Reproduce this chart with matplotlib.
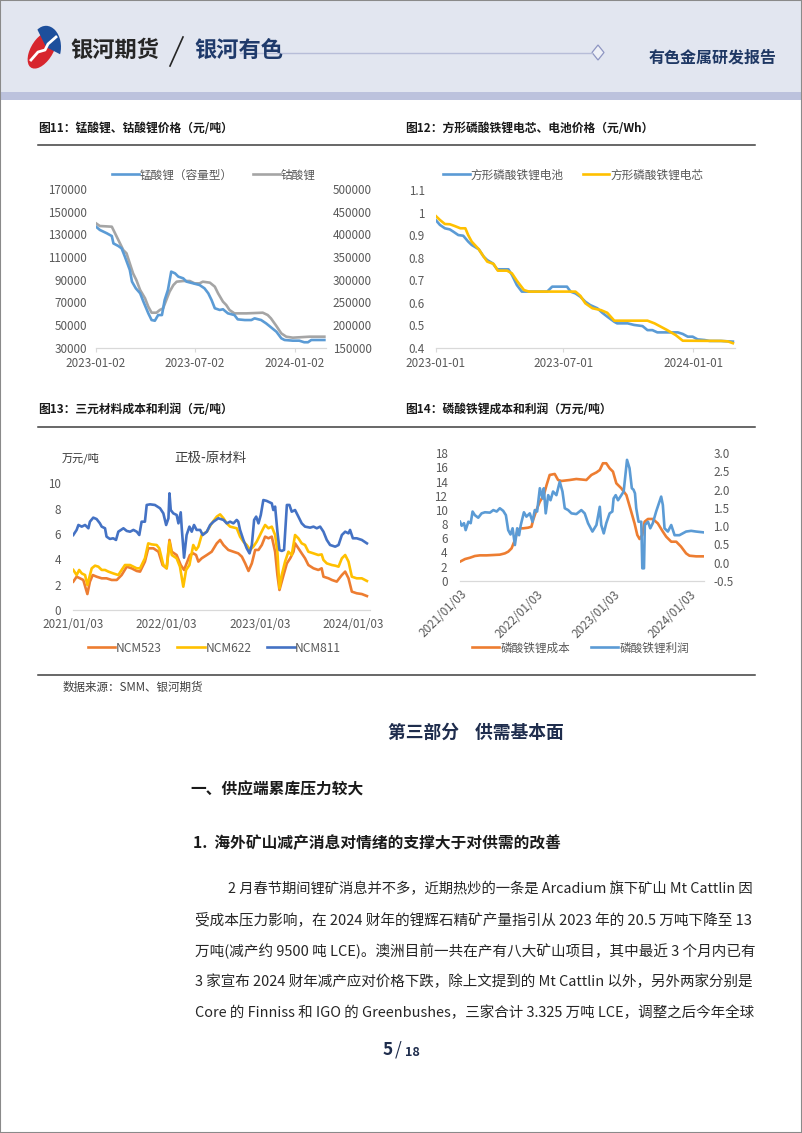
import numpy as np
import pandas as pd
import matplotlib
matplotlib.use('Agg')
import matplotlib.pyplot as plt
import matplotlib.dates as mdates
from matplotlib.patches import Rectangle, Polygon, Ellipse, Wedge
from matplotlib.lines import Line2D
from matplotlib.ticker import FuncFormatter

plt.rcParams['font.family'] = ['Noto Sans CJK SC', 'DejaVu Sans']
plt.rcParams['axes.unicode_minus'] = False

# ---------------- data ----------------
# Fig 11: lithium manganate / lithium cobaltate (day offsets from 2023-01-02)
mn_days = [0, 7, 20, 29, 32, 41, 47, 53, 62, 66, 73, 81, 87, 96, 102, 108, 114, 121, 126, 132,
           138, 145, 151, 160, 166, 178, 190, 199, 206, 212, 218, 227, 233, 242, 254, 260, 273,
           285, 291, 303, 312, 318, 331, 340, 346, 361, 373, 382, 389, 395, 419]
mn_price = [136800, 133900, 130900, 128500, 122000, 119700, 117600, 110300, 98600, 88300, 82400,
            78000, 70600, 60300, 54400, 53800, 58800, 58800, 72100, 81000, 97100, 95600, 92700,
            91200, 88300, 86800, 85300, 82400, 78000, 72100, 64800, 63300, 63900, 60300, 58800,
            55000, 54400, 54400, 55900, 54400, 51500, 49200, 44100, 38300, 36800, 36200, 36200,
            34800, 34800, 36800, 36800]
co_days = [0, 7, 29, 35, 41, 50, 56, 62, 68, 74, 81, 90, 96, 102, 111, 117, 123, 129, 135, 142,
           148, 160, 172, 181, 190, 196, 209, 218, 224, 233, 239, 245, 254, 276, 306, 315, 321,
           331, 340, 349, 361, 392, 419]
co_price = [424300, 418400, 416900, 402200, 387500, 365400, 358100, 336000, 314000, 299300,
            277200, 258800, 240400, 227200, 227200, 233100, 236800, 255100, 273500, 288200,
            295600, 297100, 297100, 291900, 291900, 295600, 293400, 284600, 269900, 251500,
            244100, 233100, 225700, 225700, 227200, 222100, 214700, 197800, 181600, 174300,
            172100, 174300, 174300]
fig11_ticks = ['2023-01-02', '2023-07-02', '2024-01-02']

# Fig 12: LFP prismatic battery / cell price (day offsets from 2023-01-01)
bat_days = [0, 6, 13, 20, 25, 32, 39, 46, 51, 61, 68, 73, 81, 87, 103, 108, 115, 122, 158, 165,
            186, 191, 198, 205, 212, 219, 229, 236, 243, 253, 257, 272, 281, 293, 300, 307, 314,
            343, 350, 357, 364, 371, 381, 388, 404, 421]
bat_price = [0.967, 0.945, 0.930, 0.925, 0.915, 0.900, 0.897, 0.871, 0.856, 0.837, 0.804, 0.789,
             0.774, 0.748, 0.748, 0.723, 0.678, 0.649, 0.649, 0.671, 0.671, 0.649, 0.641, 0.626,
             0.604, 0.589, 0.575, 0.555, 0.538, 0.515, 0.508, 0.508, 0.501, 0.496, 0.478, 0.478,
             0.468, 0.468, 0.461, 0.449, 0.449, 0.437, 0.434, 0.430, 0.430, 0.427]
cell_days = [0, 6, 13, 20, 27, 35, 42, 46, 51, 61, 68, 73, 82, 88, 101, 108, 115, 125, 132, 198,
             205, 212, 222, 234, 243, 253, 300, 310, 319, 328, 340, 350, 404, 414, 421]
cell_price = [0.985, 0.967, 0.949, 0.948, 0.940, 0.930, 0.930, 0.900, 0.871, 0.837, 0.804, 0.782,
              0.772, 0.742, 0.742, 0.730, 0.697, 0.656, 0.649, 0.649, 0.630, 0.597, 0.575, 0.567,
              0.555, 0.520, 0.520, 0.508, 0.493, 0.478, 0.456, 0.431, 0.430, 0.428, 0.420]
fig12_ticks = ['2023-01-01', '2023-07-01', '2024-01-01']

# Fig 13: ternary cathode minus raw material (day offsets from 2021-01-03)
n811_days = [0, 13, 20, 33, 46, 59, 65, 78, 91, 104, 111, 124, 130, 143, 156, 167, 176, 196, 209,
             222, 235, 248, 258, 267, 280, 287, 300, 319, 339, 352, 363, 372, 376, 381, 391, 404,
             411, 420, 424, 433, 443, 454, 463, 472, 482, 496, 506, 522, 535, 548, 567, 587, 600,
             613, 626, 639, 645, 652, 665, 678, 689, 698, 707, 715, 724, 733, 743, 756, 776, 782,
             789, 798, 806, 815, 824, 835, 845, 854, 867, 880, 893, 906, 926, 939, 952, 965, 978,
             991, 1004, 1024, 1037, 1050, 1063, 1076, 1082, 1093, 1108, 1128, 1148]
n811 = [5.92, 6.32, 6.71, 6.58, 6.71, 6.45, 6.97, 7.29, 7.18, 6.84, 6.58, 6.45, 5.79, 5.61, 5.66,
        5.53, 6.18, 6.45, 6.24, 6.18, 6.32, 6.18, 5.92, 6.97, 6.97, 8.29, 8.34, 8.29, 8.03, 7.63,
        6.71, 7.24, 9.21, 7.89, 7.63, 7.50, 6.84, 7.71, 6.45, 4.13, 5.92, 6.58, 6.18, 6.71, 6.32,
        6.32, 5.92, 6.18, 6.71, 6.97, 7.24, 7.11, 6.84, 6.97, 6.84, 7.11, 6.97, 6.32, 5.53, 4.87,
        4.47, 5.13, 7.11, 7.37, 6.84, 7.50, 8.68, 8.61, 8.42, 7.89, 8.16, 6.18, 4.74, 4.66, 4.74,
        8.29, 8.29, 7.76, 7.89, 7.37, 6.84, 6.58, 6.50, 6.58, 6.45, 6.58, 6.18, 5.53, 5.13, 5.00,
        5.13, 5.92, 6.18, 6.05, 6.32, 5.66, 5.66, 5.53, 5.26]
n622_days = [0, 13, 23, 33, 46, 55, 72, 85, 98, 111, 124, 137, 156, 176, 189, 202, 222, 235, 248,
             261, 280, 293, 306, 326, 336, 352, 365, 376, 385, 404, 417, 430, 441, 454, 469, 480,
             489, 502, 522, 541, 561, 574, 587, 600, 613, 639, 652, 665, 678, 691, 704, 717, 730,
             743, 750, 763, 776, 789, 798, 806, 815, 828, 841, 854, 867, 880, 893, 906, 919, 939,
             958, 971, 978, 991, 1011, 1024, 1037, 1050, 1063, 1076, 1089, 1108, 1128, 1148]
n622 = [3.16, 2.76, 3.16, 2.89, 2.76, 1.97, 3.29, 3.50, 3.42, 3.16, 3.16, 3.03, 2.89, 2.76, 3.16,
        3.55, 3.55, 3.42, 3.29, 3.29, 4.08, 5.26, 5.18, 5.13, 4.87, 3.55, 3.29, 5.39, 4.34, 4.08,
        3.42, 1.84, 3.16, 3.55, 5.13, 4.74, 5.00, 5.92, 6.18, 6.84, 7.37, 7.55, 7.24, 6.84, 6.58,
        6.45, 5.79, 5.39, 5.13, 4.74, 5.00, 5.39, 5.92, 6.45, 6.71, 6.45, 6.58, 5.92, 4.60, 1.71,
        2.76, 3.82, 4.60, 4.34, 5.92, 5.66, 5.26, 5.13, 4.60, 4.47, 4.34, 4.39, 3.95, 3.68, 3.55,
        3.50, 3.42, 4.08, 4.34, 3.82, 2.63, 2.50, 2.50, 2.29]
n523_days = [0, 13, 26, 39, 55, 65, 76, 91, 111, 130, 150, 170, 189, 209, 228, 248, 261, 280, 293,
             313, 333, 349, 365, 376, 385, 404, 420, 433, 443, 456, 469, 480, 489, 502, 522, 541,
             561, 574, 587, 606, 626, 645, 659, 672, 685, 698, 711, 724, 737, 750, 763, 776, 789,
             798, 806, 822, 835, 848, 861, 867, 880, 893, 906, 919, 939, 958, 971, 978, 998, 1011,
             1030, 1050, 1063, 1076, 1089, 1108, 1128, 1148]
n523 = [2.24, 2.63, 2.50, 2.37, 1.26, 2.24, 2.76, 2.63, 2.50, 2.50, 2.37, 2.37, 2.76, 3.42, 3.29,
        3.08, 3.03, 3.82, 4.87, 4.87, 4.60, 3.55, 3.29, 5.53, 4.60, 4.34, 3.55, 3.16, 3.68, 4.34,
        4.47, 4.34, 3.82, 4.08, 4.34, 4.60, 5.26, 5.53, 5.13, 4.74, 4.60, 4.47, 4.21, 3.68, 3.08,
        3.68, 4.74, 4.74, 5.13, 5.79, 5.66, 5.79, 4.60, 2.76, 1.58, 2.76, 3.68, 4.08, 4.60, 5.26,
        4.87, 4.47, 4.08, 3.55, 3.29, 3.16, 3.29, 2.63, 2.50, 2.37, 2.24, 2.76, 3.03, 2.50, 1.45,
        1.32, 1.26, 1.10]
fig13_ticks = ['2021-01-03', '2022-01-03', '2023-01-03', '2024-01-03']

# Fig 14: LFP cost (left, 万元/吨) and profit (right) (day offsets from 2021-01-03)
lfp_cost_days = [0, 24, 48, 71, 95, 127, 159, 190, 214, 230, 246, 262, 273, 286, 302, 325, 341,
                 349, 365, 381, 400, 413, 428, 452, 468, 484, 524, 555, 603, 627, 651, 667, 682,
                 698, 714, 730, 746, 770, 794, 817, 833, 846, 857, 870, 881, 897, 920, 944, 968,
                 984, 1008, 1032, 1055, 1079, 1095, 1127, 1159]
lfp_cost = [2.69, 3.06, 3.25, 3.49, 3.58, 3.58, 3.63, 3.68, 3.86, 4.10, 4.57, 5.75, 6.93, 7.40,
            7.40, 7.49, 7.63, 8.58, 9.99, 11.17, 12.10, 13.50, 14.94, 15.08, 14.23, 14.09, 14.23,
            14.37, 14.23, 14.94, 15.30, 15.64, 16.59, 16.59, 15.88, 15.41, 13.76, 13.05, 12.10,
            9.75, 8.10, 6.46, 5.89, 6.46, 8.34, 8.72, 8.72, 8.10, 6.93, 6.22, 5.51, 5.51, 4.81,
            3.86, 3.53, 3.44, 3.44]
lfp_profit_days = [0, 8, 19, 27, 40, 51, 60, 71, 87, 103, 119, 143, 159, 175, 190, 206, 219, 230,
                   241, 251, 262, 273, 282, 290, 305, 317, 333, 346, 357, 368, 381, 394, 400, 409,
                   421, 432, 444, 460, 476, 489, 500, 516, 532, 555, 579, 595, 611, 632, 651, 667,
                   674, 686, 698, 714, 727, 733, 743, 754, 770, 781, 797, 809, 820, 828, 835, 841,
                   852, 865, 870, 878, 882, 897, 908, 920, 936, 960, 968, 976, 992, 1008, 1024,
                   1047, 1063, 1079, 1103, 1127, 1159]
lfp_profit = [1.12, 1.01, 1.08, 0.89, 1.12, 1.08, 1.40, 1.30, 1.23, 1.35, 1.38, 1.37, 1.44, 1.40,
              1.49, 1.42, 1.30, 0.89, 0.77, 0.94, 0.48, 0.94, 0.75, 1.03, 1.38, 1.26, 1.35, 1.12,
              1.44, 1.40, 2.04, 1.76, 2.04, 1.35, 1.85, 1.71, 1.95, 1.85, 2.22, 1.95, 1.49, 1.44,
              1.35, 1.33, 1.44, 1.35, 1.08, 0.85, 1.03, 1.53, 1.03, 0.80, 1.08, 1.35, 1.40, 1.76,
              1.85, 1.71, 1.85, 1.95, 2.82, 2.59, 2.04, 2.00, 1.90, 1.49, 1.12, 1.12, -0.16, -0.16,
              1.03, 1.12, 0.94, 1.08, 1.40, 1.81, 1.58, 0.94, 0.85, 1.03, 0.75, 0.75, 0.80, 0.85,
              0.87, 0.85, 0.83]
fig14_ticks = ['2021-01-03', '2022-01-03', '2023-01-03', '2024-01-03']

body_lines = [
    '2 月春节期间锂矿消息并不多，近期热炒的一条是 Arcadium 旗下矿山 Mt Cattlin 因',
    '受成本压力影响，在 2024 财年的锂辉石精矿产量指引从 2023 年的 20.5 万吨下降至 13',
    '万吨(减产约 9500 吨 LCE)。澳洲目前一共在产有八大矿山项目，其中最近 3 个月内已有',
    '3 家宣布 2024 财年减产应对价格下跌，除上文提到的 Mt Cattlin 以外，另外两家分别是',
    'Core 的 Finniss 和 IGO 的 Greenbushes，三家合计 3.325 万吨 LCE，调整之后今年全球',
]

# ---------------- helpers ----------------
W, H = 802, 1133
fig = plt.figure(figsize=(W / 100, H / 100), dpi=100)
fig.patch.set_facecolor('white')


def fx(x):
    return x / W


def fy(y):
    return 1 - y / H


def add_ax(l, t, r, b):
    return fig.add_axes([fx(l), fy(b), (r - l) / W, (b - t) / H])


def to_dates(start, days):
    return pd.Timestamp(start) + pd.to_timedelta(np.asarray(days), unit='D')


TICKC = '#595959'
AXC = '#d9d9d9'
TFS = 8.4


def style_ax(ax):
    for s in ['top', 'left', 'right']:
        ax.spines[s].set_visible(False)
    ax.spines['bottom'].set_color(AXC)
    ax.spines['bottom'].set_linewidth(0.9)
    ax.patch.set_alpha(0)
    ax.tick_params(axis='y', length=0, labelsize=TFS, labelcolor=TICKC)
    ax.tick_params(axis='x', length=3, color=AXC, labelsize=TFS, labelcolor=TICKC)


def hline(x0, x1, y, color='#3f3f3f', lw=1.1):
    fig.add_artist(Line2D([fx(x0), fx(x1)], [fy(y), fy(y)], color=color, lw=lw,
                          transform=fig.transFigure))


# ---------------- header ----------------
fig.add_artist(Rectangle((0, fy(92)), 1, 92 / H, transform=fig.transFigure,
                         facecolor='#e2e6f0', edgecolor='none'))
fig.add_artist(Rectangle((0, fy(100)), 1, 8 / H, transform=fig.transFigure,
                         facecolor='#bcc2dd', edgecolor='none'))
# logo
fig.add_artist(Ellipse((fx(42), fy(50)), 34 / W, 27 / H, angle=40, transform=fig.transFigure,
                       facecolor='#d7262e', edgecolor='none'))
fig.add_artist(Wedge((fx(46), fy(47)), 15 / W, -20, 125, transform=fig.transFigure,
                     facecolor='#1d4f9c', edgecolor='none'))
fig.add_artist(Line2D([fx(31), fx(38), fx(45), fx(48), fx(56)],
                      [fy(60), fy(52), fy(50), fy(44), fy(37)], color='white', lw=2.0,
                      transform=fig.transFigure))
fig.text(fx(70), fy(50), '银河期货', fontsize=16, fontweight='bold', color='#262626',
         va='center', ha='left')
fig.add_artist(Line2D([fx(170), fx(183)], [fy(66), fy(37)], color='#262626', lw=1.2,
                      transform=fig.transFigure))
fig.text(fx(194), fy(50), '银河有色', fontsize=16, fontweight='bold', color='#1f3a6b',
         va='center', ha='left')
fig.add_artist(Line2D([fx(240), fx(420), fx(592)], [fy(52.5)] * 3, color='#b7bdd8', lw=1.0,
                      transform=fig.transFigure))
fig.add_artist(Polygon([(fx(598), fy(45)), (fx(604), fy(52.5)), (fx(598), fy(60)),
                        (fx(592), fy(52.5))], closed=True, transform=fig.transFigure,
                       facecolor='#eef0f7', edgecolor='#8e96c2', lw=0.9))
fig.text(fx(777), fy(58), '有色金属研发报告', fontsize=11.5, fontweight='bold', color='#1f3864',
         va='center', ha='right')

# ---------------- chart titles / rules ----------------
TITLEC = '#1a1a1a'
fig.text(fx(38), fy(128), '图11：锰酸锂、钴酸锂价格（元/吨）', fontsize=8.5, fontweight='bold',
         color=TITLEC, va='center')
fig.text(fx(405), fy(128), '图12：方形磷酸铁锂电芯、电池价格（元/Wh）', fontsize=8.5,
         fontweight='bold', color=TITLEC, va='center')
hline(38, 755, 145)
fig.text(fx(38), fy(410), '图13：三元材料成本和利润（元/吨）', fontsize=8.5, fontweight='bold',
         color=TITLEC, va='center')
fig.text(fx(405), fy(410), '图14：磷酸铁锂成本和利润（万元/吨）', fontsize=8.5, fontweight='bold',
         color=TITLEC, va='center')
hline(38, 755, 427)
hline(38, 755, 675)
fig.text(fx(63), fy(687), '数据来源：SMM、银河期货', fontsize=8.3, color='#404040', va='center')

# ---------------- Fig 11 ----------------
ax1 = add_ax(96, 189, 326, 347.7)
style_ax(ax1)
l1, = ax1.plot(to_dates('2023-01-02', mn_days), mn_price, color='#5b9bd5', lw=1.9)
ax1.set_ylim(30000, 170000)
ax1.set_yticks(np.arange(30000, 170001, 20000))
ax1.tick_params(axis='y', pad=6.5)
ax1r = ax1.twinx()
style_ax(ax1r)
ax1r.spines['bottom'].set_visible(False)
l2, = ax1r.plot(to_dates('2023-01-02', co_days), co_price, color='#a5a5a5', lw=1.9)
ax1r.set_ylim(150000, 500000)
ax1r.set_yticks(np.arange(150000, 500001, 50000))
ax1r.tick_params(axis='y', pad=5)
ax1.set_zorder(ax1r.get_zorder() + 1)
ax1.set_xlim(pd.Timestamp('2023-01-02'), pd.Timestamp('2023-01-02') + pd.Timedelta(days=422))
ax1.set_xticks(pd.to_datetime(fig11_ticks))
ax1.xaxis.set_major_formatter(mdates.DateFormatter('%Y-%m-%d'))
ax1.tick_params(axis='x', pad=4)
ax1.legend([l1, l2], ['锰酸锂（容量型）', '钴酸锂'], loc='center left',
           bbox_to_anchor=(fx(106), fy(175)), bbox_transform=fig.transFigure, ncol=2,
           frameon=False, fontsize=8.4, handlelength=2.3, handletextpad=0.1,
           columnspacing=1.7, borderpad=0, labelcolor=TICKC)

# ---------------- Fig 12 ----------------
ax2 = add_ax(435.7, 190, 735, 347.7)
style_ax(ax2)
b1, = ax2.plot(to_dates('2023-01-01', bat_days), bat_price, color='#5b9bd5', lw=1.9)
b2, = ax2.plot(to_dates('2023-01-01', cell_days), cell_price, color='#ffc000', lw=1.9)
ax2.set_ylim(0.4, 1.1)
ax2.set_yticks(np.arange(0.4, 1.1001, 0.1))
ax2.yaxis.set_major_formatter(FuncFormatter(lambda v, p: f'{round(v, 1):g}'))
ax2.tick_params(axis='y', pad=8)
ax2.set_xlim(pd.Timestamp('2023-01-01'), pd.Timestamp('2023-01-01') + pd.Timedelta(days=424))
ax2.set_xticks(pd.to_datetime(fig12_ticks))
ax2.xaxis.set_major_formatter(mdates.DateFormatter('%Y-%m-%d'))
ax2.tick_params(axis='x', pad=4)
ax2.legend([b1, b2], ['方形磷酸铁锂电池', '方形磷酸铁锂电芯'], loc='center left',
           bbox_to_anchor=(fx(437), fy(175)), bbox_transform=fig.transFigure, ncol=2,
           frameon=False, fontsize=8.4, handlelength=2.3, handletextpad=0.1,
           columnspacing=1.6, borderpad=0, labelcolor=TICKC)

# ---------------- Fig 13 ----------------
ax3 = add_ax(73.3, 483.3, 370, 610)
style_ax(ax3)
ax3.tick_params(axis='x', length=0)
c1, = ax3.plot(to_dates('2021-01-03', n523_days), n523, color='#ed7d31', lw=1.9)
c2, = ax3.plot(to_dates('2021-01-03', n622_days), n622, color='#ffc000', lw=1.9)
c3, = ax3.plot(to_dates('2021-01-03', n811_days), n811, color='#4472c4', lw=1.9)
ax3.set_ylim(0, 10)
ax3.set_yticks(np.arange(0, 10.1, 2))
ax3.tick_params(axis='y', pad=9)
ax3.set_xlim(pd.Timestamp('2021-01-03'), pd.Timestamp('2021-01-03') + pd.Timedelta(days=1160))
ax3.set_xticks(pd.to_datetime(fig13_ticks))
ax3.xaxis.set_major_formatter(mdates.DateFormatter('%Y/%m/%d'))
ax3.tick_params(axis='x', pad=6)
fig.text(fx(62), fy(458), '万元/吨', fontsize=8, color='#333333', va='center')
fig.text(fx(210), fy(458), '正极-原材料', fontsize=9.7, color='#404040', va='center', ha='center')
ax3.legend([c1, c2, c3], ['NCM523', 'NCM622', 'NCM811'], loc='center left',
           bbox_to_anchor=(fx(82), fy(648)), bbox_transform=fig.transFigure, ncol=3,
           frameon=False, fontsize=8.6, handlelength=2.3, handletextpad=0.05,
           columnspacing=1.3, borderpad=0, labelcolor=TICKC)

# ---------------- Fig 14 ----------------
ax4 = add_ax(460, 453.3, 703.5, 580.7)
style_ax(ax4)
ax4.tick_params(axis='x', length=0)
d1, = ax4.plot(to_dates('2021-01-03', lfp_cost_days), lfp_cost, color='#ed7d31', lw=1.9)
ax4.set_ylim(0, 18)
ax4.set_yticks(np.arange(0, 18.1, 2))
ax4.tick_params(axis='y', pad=9)
ax4r = ax4.twinx()
style_ax(ax4r)
ax4r.spines['bottom'].set_visible(False)
d2, = ax4r.plot(to_dates('2021-01-03', lfp_profit_days), lfp_profit, color='#5b9bd5', lw=1.9)
ax4r.set_ylim(-0.5, 3.0)
ax4r.set_yticks(np.arange(-0.5, 3.01, 0.5))
ax4r.yaxis.set_major_formatter(FuncFormatter(lambda v, p: f'{v:.1f}'))
ax4r.tick_params(axis='y', pad=7)
ax4.set_xlim(pd.Timestamp('2021-01-03'), pd.Timestamp('2021-01-03') + pd.Timedelta(days=1162))
ax4.set_xticks(pd.to_datetime(fig14_ticks))
ax4.xaxis.set_major_formatter(mdates.DateFormatter('%Y/%m/%d'))
ax4.tick_params(axis='x', pad=5)
for lab in ax4.get_xticklabels():
    lab.set_rotation(45)
    lab.set_ha('right')
    lab.set_va('top')
    lab.set_rotation_mode('anchor')
ax4.legend([d1, d2], ['磷酸铁锂成本', '磷酸铁锂利润'], loc='center left',
           bbox_to_anchor=(fx(466), fy(648)), bbox_transform=fig.transFigure, ncol=2,
           frameon=False, fontsize=8.4, handlelength=2.3, handletextpad=0.15,
           columnspacing=1.8, borderpad=0, labelcolor=TICKC)

# ---------------- text section ----------------
fig.text(fx(476), fy(733), '第三部分    供需基本面', fontsize=12.8, fontweight='bold',
         style='italic', color='#1f2d4d', va='center', ha='center')
fig.text(fx(190), fy(789), '一、供应端累库压力较大', fontsize=11.3, fontweight='bold',
         color='#1a1a1a', va='center')
fig.text(fx(193), fy(843), '1.  海外矿山减产消息对情绪的支撑大于对供需的改善', fontsize=11.3,
         fontweight='bold', color='#1a1a1a', va='center')

# body paragraph: each line sized so it spans the justified column (ends at x=753)
line_y = [889, 920, 951, 982, 1013]
renderer = fig.canvas.get_renderer()
for i, (s, yy) in enumerate(zip(body_lines, line_y)):
    x0 = 228 if i == 0 else 195
    t = fig.text(fx(x0), fy(yy), s, fontsize=10, color='#262626', va='center')
    wpx = t.get_window_extent(renderer=renderer).width
    t.set_fontsize(min(10.6, 10 * (753 - x0) / wpx))

fig.text(fx(388), fy(1050), '5', fontsize=12.5, fontweight='bold', color='#1f2d4d',
         va='center', ha='center')
fig.text(fx(398), fy(1050), '/', fontsize=12.5, color='#1f2d4d', va='center', ha='center')
fig.text(fx(405), fy(1052), '18', fontsize=9, fontweight='bold', color='#1f2d4d',
         va='center', ha='left')

# page frame
fig.add_artist(Rectangle((0, 0), 1, 1, transform=fig.transFigure, fill=False,
                         edgecolor='#8a8a8a', lw=1.5))

fig.savefig('out.png', dpi=100)
